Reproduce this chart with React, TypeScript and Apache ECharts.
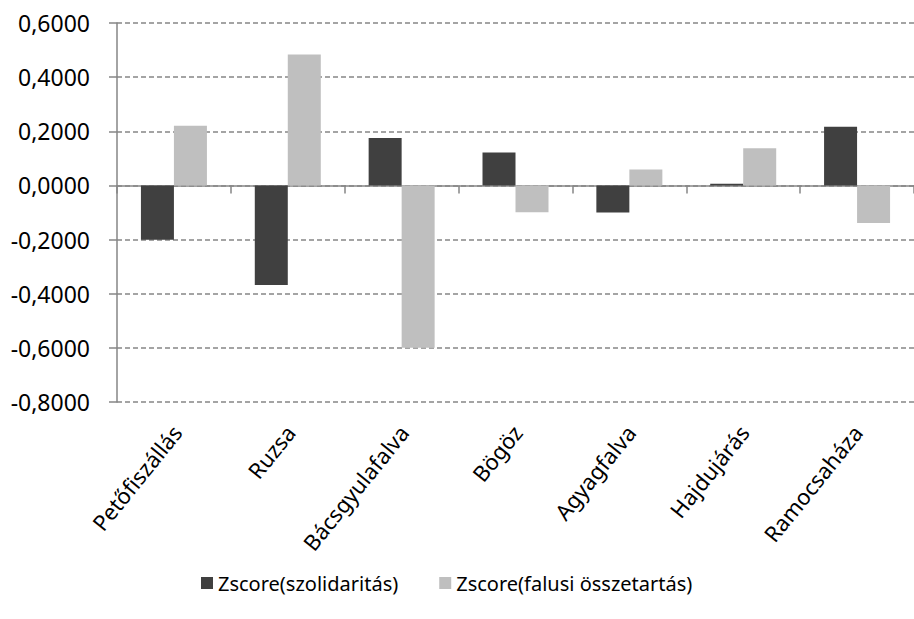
import React, { useEffect, useRef } from "react";
import * as echarts from "echarts";

const categories = [
  "Petőfiszállás",
  "Ruzsa",
  "Bácsgyulafalva",
  "Bögöz",
  "Agyagfalva",
  "Hajdujárás",
  "Ramocsaháza",
];
const seriesNames = ["Zscore(szolidaritás)", "Zscore(falusi összetartás)"];
const solidarity = [-0.201, -0.368, 0.175, 0.122, -0.1, 0.006, 0.217];
const cohesion = [0.22, 0.484, -0.6, -0.099, 0.059, 0.137, -0.139];
const yMin = -0.8;
const yMax = 0.6;
const yStep = 0.2;

export default function App() {
  const ref = useRef<HTMLDivElement>(null);
  useEffect(() => {
    if (!ref.current) return;
    const chart = echarts.init(ref.current, undefined, { renderer: "svg" });
    const font = "Noto Sans";
    chart.setOption({
      animation: false,
      backgroundColor: "#ffffff",
      textStyle: { fontFamily: font },
      grid: [
        { left: 117, top: 23, width: 805, height: 379, containLabel: false },
        { left: 120, top: 23, width: 805, height: 379, containLabel: false },
      ],
      legend: {
        left: 196,
        top: 568,
        itemWidth: 12,
        itemHeight: 12,
        itemGap: 41,
        icon: "rect",
        textStyle: { fontFamily: font, fontSize: 20, color: "#000" },
        data: seriesNames,
      },
      xAxis: [
        {
          type: "category",
          gridIndex: 0,
          data: categories,
          axisLine: { onZero: true, lineStyle: { color: "#868686", width: 1.5 } },
          axisTick: { show: true, length: 8, lineStyle: { color: "#868686", width: 1.5 } },
          axisLabel: { show: false },
          splitLine: { show: false },
        },
        {
          type: "category",
          gridIndex: 1,
          data: categories,
          position: "bottom",
          axisLine: { show: false, onZero: false },
          axisTick: { show: false },
          axisLabel: {
            show: true,
            rotate: 51,
            interval: 0,
            margin: 26,
            fontFamily: font,
            fontSize: 22,
            color: "#000",
          },
          splitLine: { show: false },
        },
      ],
      yAxis: [
        {
          type: "value",
          gridIndex: 0,
          min: yMin,
          max: yMax,
          interval: yStep,
          axisLine: { show: true, lineStyle: { color: "#868686", width: 1.5 } },
          axisTick: { show: true, inside: false, length: 8, lineStyle: { color: "#868686", width: 1.5 } },
          axisLabel: {
            margin: 27,
            fontFamily: font,
            fontSize: 23,
            color: "#000",
            formatter: (v: number) => v.toFixed(4).replace(".", ","),
          },
          splitLine: { show: true, lineStyle: { color: "#868686", type: [5, 3], width: 1.5 } },
        },
        {
          type: "value",
          gridIndex: 1,
          min: yMin,
          max: yMax,
          interval: yStep,
          show: false,
        },
      ],
      series: [
        {
          name: seriesNames[0],
          type: "bar",
          xAxisIndex: 0,
          yAxisIndex: 0,
          data: solidarity,
          barWidth: 33,
          barGap: "0%",
          itemStyle: { color: "#404040" },
        },
        {
          name: seriesNames[1],
          type: "bar",
          xAxisIndex: 0,
          yAxisIndex: 0,
          data: cohesion,
          barWidth: 33,
          barGap: "0%",
          itemStyle: { color: "#bfbfbf" },
        },
      ],
    });
    return () => chart.dispose();
  }, []);
  return (
    <div
      ref={ref}
      style={{ position: "fixed", left: 0, top: 0, width: 914, height: 619, background: "#fff" }}
    />
  );
}
